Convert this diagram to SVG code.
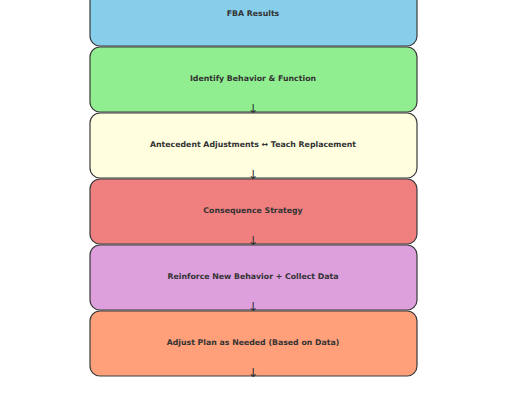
<svg xmlns="http://www.w3.org/2000/svg" width="507" height="405" viewBox="0 0 507 405">
<style>
.box{stroke:#3a3a3a;stroke-width:1.2}
.lbl{font-family:"DejaVu Sans",sans-serif;font-weight:bold;font-size:7.8px;fill:#333;text-anchor:middle;dominant-baseline:central}
.arr{font-family:"DejaVu Sans",sans-serif;font-size:12.5px;fill:#333;text-anchor:middle}
</style>
<rect width="507" height="405" fill="#fff"/>
<g id="n1"><rect class="box" x="90" y="-19" width="327" height="65" rx="10" fill="#87CEEB"/><text class="lbl" x="253" y="13">FBA Results</text></g>
<g id="n2"><rect class="box" x="90" y="47" width="327" height="65" rx="10" fill="#90EE90"/><text class="lbl" x="253" y="78.5">Identify Behavior &amp; Function</text></g>
<g id="n3"><rect class="box" x="90" y="113" width="327" height="65" rx="10" fill="#FFFFE0"/><text class="lbl" x="253" y="144.5">Antecedent Adjustments ↔ Teach Replacement</text></g>
<g id="n4"><rect class="box" x="90" y="179" width="327" height="65" rx="10" fill="#F08080"/><text class="lbl" x="253" y="210.5">Consequence Strategy</text></g>
<g id="n5"><rect class="box" x="90" y="245" width="327" height="65" rx="10" fill="#DDA0DD"/><text class="lbl" x="253" y="276.5">Reinforce New Behavior + Collect Data</text></g>
<g id="n6"><rect class="box" x="90" y="311" width="327" height="65" rx="10" fill="#FFA07A"/><text class="lbl" x="253" y="342.5">Adjust Plan as Needed (Based on Data)</text></g>
<g id="connectors">
<text class="arr" x="253" y="113">↓</text>
<text class="arr" x="253" y="179">↓</text>
<text class="arr" x="253" y="245">↓</text>
<text class="arr" x="253" y="311">↓</text>
<text class="arr" x="253" y="377">↓</text>
</g>
</svg>
